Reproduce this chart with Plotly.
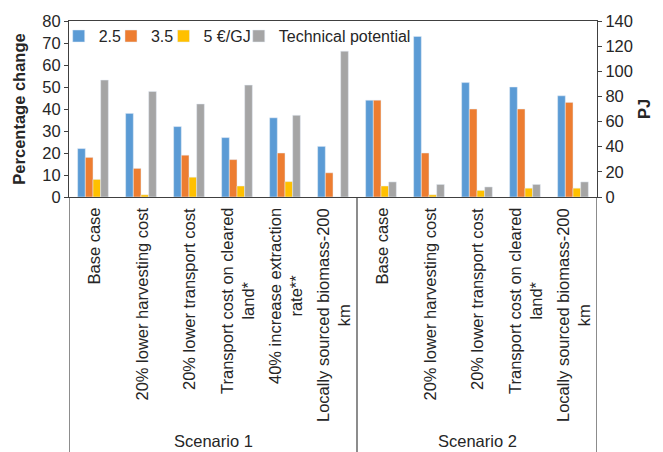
import plotly.graph_objects as go

categories = [
    "Base case", "20% lower harvesting cost", "20% lower transport cost",
    "Transport cost on cleared<br>land*", "40% increase extraction<br>rate**",
    "Locally sourced biomass-200<br>km",
    "Base case", "20% lower harvesting cost", "20% lower transport cost",
    "Transport cost on cleared<br>land*", "Locally sourced biomass-200<br>km",
]
scenarios = ["Scenario 1", "Scenario 2"]
scenario_sizes = [6, 5]

s25 = [22, 38, 32, 27, 36, 23, 44, 73, 52, 50, 46]
s35 = [18, 13, 19, 17, 20, 11, 44, 20, 40, 40, 43]
s5 = [8, 1, 9, 5, 7, 0, 5, 1, 3, 4, 4]
tech_pj = [93, 84, 74, 89, 65, 116, 12, 10, 8, 10, 12]

x = list(range(len(categories)))
FONT = "Liberation Sans, Arial, sans-serif"
TXT = "#262626"
LINE = "#404040"
FS = 16.5
W = 0.16

fig = go.Figure()
fig.add_trace(go.Bar(x=x, y=s25, name="2.5", marker_color="#5B9BD5", width=W, offset=-2 * W,
                     legend="legend"))
fig.add_trace(go.Bar(x=x, y=s35, name="3.5", marker_color="#ED7D31", width=W, offset=-W,
                     legend="legend2"))
fig.add_trace(go.Bar(x=x, y=s5, name="5 €/GJ", marker_color="#FFC000", width=W, offset=0,
                     legend="legend3"))
fig.add_trace(go.Bar(x=x, y=tech_pj, name="Technical potential", marker_color="#A5A5A5",
                     width=W, offset=W, yaxis="y2", legend="legend4"))

annotations = []
for i, c in enumerate(categories):
    annotations.append(dict(x=i, xref="x", y=0, yref="paper", yshift=-9, text=c,
                            textangle=-90, showarrow=False, xanchor="center", yanchor="top",
                            align="center", font=dict(size=FS, color=TXT, family=FONT)))
shapes = []
start = 0
bounds = [-0.5]
for name, n in zip(scenarios, scenario_sizes):
    mid = start + (n - 1) / 2
    annotations.append(dict(x=mid, xref="x", y=0, yref="paper", yshift=-244, text=name,
                            showarrow=False, xanchor="center", yanchor="middle",
                            font=dict(size=FS, color=TXT, family=FONT)))
    start += n
    bounds.append(start - 0.5)
for b in bounds:
    shapes.append(dict(type="line", xref="x", yref="paper", x0=b, x1=b, y0=0, y1=-1.45,
                       line=dict(color=LINE, width=1.2)))

def leg(xpos):
    return dict(orientation="h", x=xpos, y=1.005, xanchor="left", yanchor="top",
                font=dict(size=16, color=TXT, family=FONT), itemwidth=30,
                bgcolor="rgba(0,0,0,0)")

# the page body adds an 8px margin, so the figure is 8px smaller and shifted
fig.update_layout(
    width=655, height=444,
    margin=dict(l=61, r=66, t=12, b=255),
    paper_bgcolor="white", plot_bgcolor="white",
    font=dict(family=FONT, size=FS, color=TXT),
    barmode="group",
    showlegend=True,
    legend=leg(-0.0195),
    legend2=leg(0.0795),
    legend3=leg(0.179),
    legend4=leg(0.3215),
    xaxis=dict(range=[-0.5, 10.5], showticklabels=False, ticks="", showgrid=False,
               zeroline=False, showline=True, linecolor=LINE, linewidth=1.2, mirror=True,
               fixedrange=True, automargin=False),
    yaxis=dict(range=[0, 80], dtick=10, showgrid=False, zeroline=False, showline=True,
               linecolor=LINE, linewidth=1.2, ticks="outside", ticklen=4, tickcolor=LINE,
               automargin=False,
               title=dict(text="<b>Percentage change</b>", font=dict(size=FS, color=TXT), standoff=12),
               tickfont=dict(size=FS, color=TXT)),
    yaxis2=dict(range=[0, 140], dtick=20, overlaying="y", side="right", showgrid=False,
                zeroline=False, showline=True, linecolor=LINE, linewidth=1.2,
                ticks="outside", ticklen=4, tickcolor=LINE, automargin=False,
                title=dict(text="<b>PJ</b>", font=dict(size=FS, color=TXT), standoff=6),
                tickfont=dict(size=FS, color=TXT)),
    annotations=annotations,
    shapes=shapes,
)

fig.write_html("out.html")
